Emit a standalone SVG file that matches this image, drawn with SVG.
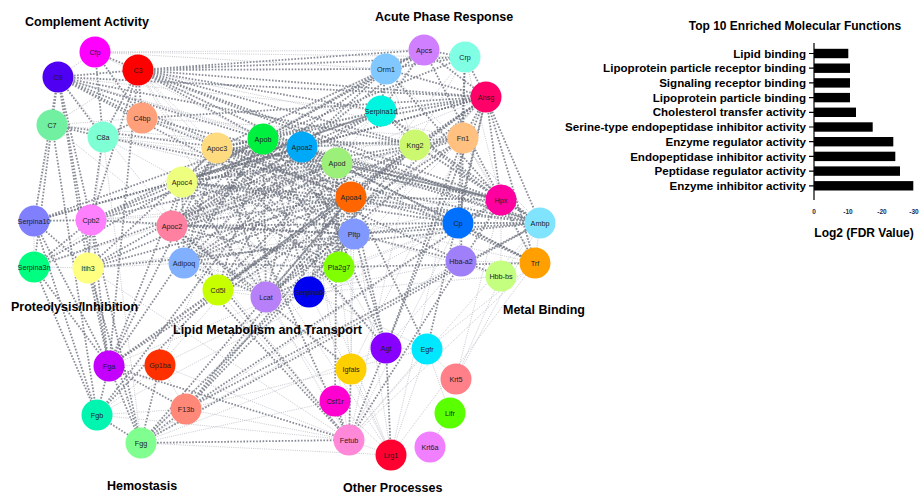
<svg xmlns="http://www.w3.org/2000/svg" width="921" height="493" viewBox="0 0 921 493">
<style>
.bg{fill:#ffffff}
.d path,.d{fill:none;stroke:#454b5a;stroke-width:1.8;stroke-dasharray:1.6 1.6;opacity:0.8}
.l path,.l{fill:none;stroke:#9ea3ad;stroke-width:0.8;stroke-dasharray:1 1.2;opacity:0.85}
.node circle{stroke:none}
.node text{font-family:"Liberation Sans",Arial,sans-serif;font-size:7.2px;fill:#1e1e24;text-anchor:middle}
.grp{font-family:"Liberation Sans",Arial,sans-serif;font-size:12.5px;font-weight:bold;fill:#000}
.bl{font-family:"Liberation Sans",Arial,sans-serif;font-size:11.6px;font-weight:bold;fill:#000;text-anchor:end}
.ttl{font-family:"Liberation Sans",Arial,sans-serif;font-size:12px;font-weight:bold;fill:#000;text-anchor:middle}
.tk{font-family:"Liberation Sans",Arial,sans-serif;font-size:6.5px;font-weight:bold;fill:#1a2a4a;text-anchor:middle}
.bar{fill:#000}
.ax{stroke:#000;stroke-width:1.2;fill:none}
</style>
<rect class="bg" x="0" y="0" width="921" height="493"/>
<g id="connectors">
<g class="d">
<path d="M58 77L52 125M58 77L103 137M58 77L138 70M95 52L138 70M95 52L103 137M138 70L103 137M138 70L142 118M142 118L103 137M52 125L103 137M58 77L142 118M95 52L142 118M58 77L34 221M58 77L91 220M103 137L91 220M52 125L34 267M58 77L88 268M138 70L91 220M58 77L109 366M52 125L97 415M138 70L109 366M138 70L386 69M138 70L424 50M138 70L465 57M138 70L486 97M138 70L381 111M138 70L415 145M138 70L501 200M138 70L540 223M58 77L486 97M58 77L415 145M103 137L540 223M142 118L486 97M142 118L351 197M142 118L501 200M138 70L263 139M138 70L302 147M58 77L263 139M58 77L351 197M52 125L337 163M58 77L354 234"/>
<path d="M217 148L263 139M217 148L302 147M217 148L337 163M217 148L351 197M217 148L354 234M217 148L339 267M217 148L266 297M217 148L184 263M217 148L172 226M217 148L182 182M263 139L302 147M263 139L337 163M263 139L351 197M263 139L354 234M263 139L339 267M263 139L309 292M263 139L266 297M263 139L218 290M263 139L184 263M263 139L172 226M263 139L182 182M302 147L337 163M302 147L351 197M302 147L354 234M302 147L339 267M302 147L266 297M302 147L218 290M302 147L184 263M302 147L172 226M302 147L182 182M337 163L351 197M337 163L354 234M337 163L339 267M337 163L309 292M337 163L266 297M337 163L184 263M337 163L172 226M337 163L182 182M351 197L354 234M351 197L339 267M351 197L266 297M351 197L218 290M351 197L184 263M351 197L172 226M351 197L182 182M354 234L339 267M354 234L309 292M354 234L266 297M354 234L184 263M354 234L172 226M354 234L182 182M339 267L266 297M339 267L184 263M339 267L172 226M339 267L182 182M266 297L184 263M266 297L172 226M266 297L182 182M184 263L172 226M184 263L182 182M172 226L182 182"/>
<path d="M91 220L337 163M91 220L354 234M88 268L337 163M34 221L302 147M184 263L415 145M172 226L463 138M218 290L415 145M266 297L486 97M217 148L461 261M182 182L458 223M263 139L501 200M302 147L540 223M302 147L501 200M337 163L535 263M88 268L302 147M34 267L263 139M182 182L381 111M172 226L386 69"/>
<path d="M386 69L424 50M386 69L465 57M386 69L486 97M386 69L381 111M424 50L465 57M424 50L486 97M465 57L486 97M486 97L463 138M486 97L381 111M381 111L415 145M465 57L463 138M424 50L381 111M486 97L415 145"/>
<path d="M424 50L302 147M424 50L263 139M465 57L263 139M486 97L302 147M486 97L263 139M486 97L217 148M486 97L351 197M386 69L302 147M386 69L263 139M386 69L217 148M381 111L263 139M381 111L302 147M381 111L217 148M381 111L182 182M381 111L172 226M415 145L351 197M415 145L263 139M463 138L302 147M463 138L182 182M463 138L337 163M463 138L266 297M463 138L109 366M463 138L386 348"/>
<path d="M486 97L501 200M486 97L540 223M486 97L458 223M486 97L535 263M465 57L458 223M424 50L501 200M415 145L501 200M415 145L540 223M381 111L540 223M381 111L501 200M386 69L501 200M463 138L461 261"/>
<path d="M501 200L540 223M501 200L458 223M501 200L535 263M458 223L540 223M458 223L535 263M461 261L501 276"/>
<path d="M501 200L351 197M501 200L337 163M501 200L217 148M540 223L351 197M540 223L337 163M540 223L182 182M458 223L302 147M458 223L172 226M458 223L351 197M458 223L354 234M535 263L263 139M535 263L339 267M461 261L354 234M540 223L354 234M501 200L349 440M540 223L141 443"/>
<path d="M34 221L91 220M34 221L88 268M91 220L88 268M34 267L91 220M34 221L97 415M34 221L109 366M34 267L109 366M34 267L97 415M91 220L109 366M91 220L141 443M88 268L141 443M88 268L109 366M91 220L302 147M91 220L263 139M91 220L182 182M88 268L217 148M88 268L351 197M34 221L263 139M34 267L337 163M88 268L540 223M34 221L486 97"/>
<path d="M109 366L97 415M109 366L141 443M97 415L141 443M109 366L186 409M141 443L186 409M160 365L141 443M109 366L351 197M109 366L182 182M109 366L263 139M109 366L217 148M97 415L302 147M97 415L337 163M141 443L351 197M141 443L354 234M141 443L349 440M186 409L351 197M186 409L354 234M186 409L415 145M186 409L501 200M186 409L540 223M109 366L486 97M109 366L349 440"/>
<path d="M386 348L391 455M386 348L349 440M351 369L349 440M335 401L349 440M386 348L351 197M386 348L354 234M386 348L302 147M386 348L217 148M351 369L172 226M427 349L337 163M349 440L172 226M349 440L184 263M349 440L217 148M335 401L337 163M427 349L486 97M386 348L486 97"/>
</g>
<g class="l">
<path d="M58 77L95 52M52 125L142 118M52 125L138 70M52 125L34 221M103 137L88 268M103 137L141 443M95 52L424 50M95 52L465 57M138 70L463 138M138 70L458 223M58 77L302 147M58 77L381 111M58 77L501 200M103 137L337 163M142 118L458 223M142 118L463 138M103 137L415 145M138 70L217 148M95 52L263 139M95 52L386 69M52 125L302 147M103 137L351 197M103 137L501 200M138 70L391 455M58 77L349 440M52 125L266 297M103 137L339 267M138 70L386 348M138 70L349 440"/>
<path d="M217 148L309 292M217 148L218 290M302 147L309 292M337 163L218 290M351 197L309 292M354 234L218 290M339 267L309 292M339 267L218 290M309 292L266 297M309 292L218 290M309 292L184 263M309 292L172 226M309 292L182 182M266 297L218 290M218 290L184 263M218 290L172 226M218 290L182 182"/>
<path d="M415 145L463 138M386 69L415 145M465 57L415 145M424 50L217 148M424 50L337 163M465 57L351 197M486 97L354 234M486 97L172 226M386 69L182 182M381 111L184 263M415 145L217 148M463 138L218 290M463 138L309 292M465 57L501 200M463 138L501 200M463 138L458 223M386 69L540 223M463 138L535 263"/>
<path d="M458 223L461 261M461 261L535 263M540 223L535 263M501 200L501 276M540 223L501 276M501 200L354 234M458 223L266 297M535 263L182 182M461 261L309 292M501 276L354 234M501 276L266 297M458 223L349 440M540 223L349 440M535 263L391 455M535 263L427 349M461 261L386 348M458 223L109 366M501 200L141 443M535 263L349 440M461 261L141 443M501 276L456 379"/>
<path d="M34 267L88 268M34 221L34 267M91 220L172 226M91 220L351 197M88 268L354 234M88 268L184 263M34 221L182 182M34 267L217 148M91 220L501 200M34 267L415 145M91 220L463 138M88 268L349 440"/>
<path d="M109 366L160 365M97 415L186 409M160 365L186 409M160 365L97 415M141 443L391 455M141 443L335 401M141 443L386 348M186 409L349 440M186 409L427 349M160 365L337 163M160 365L309 292M160 365L263 139M97 415L501 200M97 415L349 440M160 365L349 440M141 443L486 97"/>
<path d="M386 348L427 349M427 349L456 379M427 349L450 413M386 348L351 369M427 349L391 455M427 349L349 440M351 369L391 455M450 413L430 447M349 440L391 455M335 401L391 455M386 348L263 139M351 369L351 197M351 369L339 267M427 349L309 292M349 440L302 147M349 440L354 234M349 440L218 290M391 455L263 139M391 455L351 197M391 455L309 292M335 401L182 182M391 455L463 138M349 440L415 145M351 369L486 97M456 379L501 200M456 379L540 223"/>
</g>
</g>
<g id="nodes">
<g id="node-Cfp" class="node"><circle cx="95" cy="52" r="15.5" fill="#ff00ff"/><text x="95" y="54.5">Cfp</text></g>
<g id="node-C3" class="node"><circle cx="138" cy="70" r="15.5" fill="#ff0000"/><text x="138" y="72.5">C3</text></g>
<g id="node-C9" class="node"><circle cx="58" cy="77" r="15.5" fill="#4f00f2"/><text x="58" y="79.5">C9</text></g>
<g id="node-C7" class="node"><circle cx="52" cy="125" r="15.5" fill="#70f0a0"/><text x="52" y="127.5">C7</text></g>
<g id="node-C8a" class="node"><circle cx="103" cy="137" r="15.5" fill="#7fffd4"/><text x="103" y="139.5">C8a</text></g>
<g id="node-C4bp" class="node"><circle cx="142" cy="118" r="15.5" fill="#ffa07a"/><text x="142" y="120.5">C4bp</text></g>
<g id="node-Apoc3" class="node"><circle cx="217" cy="148" r="15.5" fill="#ffdb80"/><text x="217" y="150.5">Apoc3</text></g>
<g id="node-Apob" class="node"><circle cx="263" cy="139" r="15.5" fill="#00f040"/><text x="263" y="141.5">Apob</text></g>
<g id="node-Apoa2" class="node"><circle cx="302" cy="147" r="15.5" fill="#00a8f8"/><text x="302" y="149.5">Apoa2</text></g>
<g id="node-Apod" class="node"><circle cx="337" cy="163" r="15.5" fill="#9cf07a"/><text x="337" y="165.5">Apod</text></g>
<g id="node-Apoa4" class="node"><circle cx="351" cy="197" r="15.5" fill="#ff6600"/><text x="351" y="199.5">Apoa4</text></g>
<g id="node-Pltp" class="node"><circle cx="354" cy="234" r="15.5" fill="#8098ff"/><text x="354" y="236.5">Pltp</text></g>
<g id="node-Pla2g7" class="node"><circle cx="339" cy="267" r="15.5" fill="#80ff00"/><text x="339" y="269.5">Pla2g7</text></g>
<g id="node-Serpina6" class="node"><circle cx="309" cy="292" r="15.5" fill="#0000f0"/><text x="309" y="294.5">Serpina6</text></g>
<g id="node-Lcat" class="node"><circle cx="266" cy="297" r="15.5" fill="#b880f8"/><text x="266" y="299.5">Lcat</text></g>
<g id="node-Cd5l" class="node"><circle cx="218" cy="290" r="15.5" fill="#c8ff00"/><text x="218" y="292.5">Cd5l</text></g>
<g id="node-Adipoq" class="node"><circle cx="184" cy="263" r="15.5" fill="#80b0ff"/><text x="184" y="265.5">Adipoq</text></g>
<g id="node-Apoc2" class="node"><circle cx="172" cy="226" r="15.5" fill="#ff80a0"/><text x="172" y="228.5">Apoc2</text></g>
<g id="node-Apoc4" class="node"><circle cx="182" cy="182" r="15.5" fill="#eeff80"/><text x="182" y="184.5">Apoc4</text></g>
<g id="node-Serpina10" class="node"><circle cx="34" cy="221" r="15.5" fill="#8080ff"/><text x="34" y="223.5">Serpina10</text></g>
<g id="node-Cpb2" class="node"><circle cx="91" cy="220" r="15.5" fill="#ff80ff"/><text x="91" y="222.5">Cpb2</text></g>
<g id="node-Serpina3n" class="node"><circle cx="34" cy="267" r="15.5" fill="#00ff80"/><text x="34" y="269.5">Serpina3n</text></g>
<g id="node-Itih3" class="node"><circle cx="88" cy="268" r="15.5" fill="#ffff80"/><text x="88" y="270.5">Itih3</text></g>
<g id="node-Orm1" class="node"><circle cx="386" cy="69" r="15.5" fill="#80c8ff"/><text x="386" y="71.5">Orm1</text></g>
<g id="node-Apcs" class="node"><circle cx="424" cy="50" r="15.5" fill="#d080ff"/><text x="424" y="52.5">Apcs</text></g>
<g id="node-Crp" class="node"><circle cx="465" cy="57" r="15.5" fill="#80ffe4"/><text x="465" y="59.5">Crp</text></g>
<g id="node-Ahsg" class="node"><circle cx="486" cy="97" r="15.5" fill="#ff0068"/><text x="486" y="99.5">Ahsg</text></g>
<g id="node-Serpina1d" class="node"><circle cx="381" cy="111" r="15.5" fill="#00f5e0"/><text x="381" y="113.5">Serpina1d</text></g>
<g id="node-Kng2" class="node"><circle cx="415" cy="145" r="15.5" fill="#ccf870"/><text x="415" y="147.5">Kng2</text></g>
<g id="node-Fn1" class="node"><circle cx="463" cy="138" r="15.5" fill="#ffc080"/><text x="463" y="140.5">Fn1</text></g>
<g id="node-Hpx" class="node"><circle cx="501" cy="200" r="15.5" fill="#ff00a0"/><text x="501" y="202.5">Hpx</text></g>
<g id="node-Cp" class="node"><circle cx="458" cy="223" r="15.5" fill="#0070ff"/><text x="458" y="225.5">Cp</text></g>
<g id="node-Ambp" class="node"><circle cx="540" cy="223" r="15.5" fill="#80e4ff"/><text x="540" y="225.5">Ambp</text></g>
<g id="node-Hba-a2" class="node"><circle cx="461" cy="261" r="15.5" fill="#a080f8"/><text x="461" y="263.5">Hba-a2</text></g>
<g id="node-Trf" class="node"><circle cx="535" cy="263" r="15.5" fill="#ffa000"/><text x="535" y="265.5">Trf</text></g>
<g id="node-Hbb-bs" class="node"><circle cx="501" cy="276" r="15.5" fill="#c4ff80"/><text x="501" y="278.5">Hbb-bs</text></g>
<g id="node-Agt" class="node"><circle cx="386" cy="348" r="15.5" fill="#8800ff"/><text x="386" y="350.5">Agt</text></g>
<g id="node-Egfr" class="node"><circle cx="427" cy="349" r="15.5" fill="#00e8ff"/><text x="427" y="351.5">Egfr</text></g>
<g id="node-Igfals" class="node"><circle cx="351" cy="369" r="15.5" fill="#ffd000"/><text x="351" y="371.5">Igfals</text></g>
<g id="node-Krt5" class="node"><circle cx="456" cy="379" r="15.5" fill="#ff8088"/><text x="456" y="381.5">Krt5</text></g>
<g id="node-Csf1r" class="node"><circle cx="335" cy="401" r="15.5" fill="#ff00d0"/><text x="335" y="403.5">Csf1r</text></g>
<g id="node-Lifr" class="node"><circle cx="450" cy="413" r="15.5" fill="#5aff00"/><text x="450" y="415.5">Lifr</text></g>
<g id="node-Fetub" class="node"><circle cx="349" cy="440" r="15.5" fill="#ff88d8"/><text x="349" y="442.5">Fetub</text></g>
<g id="node-Krt6a" class="node"><circle cx="430" cy="447" r="15.5" fill="#f080ff"/><text x="430" y="449.5">Krt6a</text></g>
<g id="node-Lrg1" class="node"><circle cx="391" cy="455" r="15.5" fill="#ff0030"/><text x="391" y="457.5">Lrg1</text></g>
<g id="node-Fga" class="node"><circle cx="109" cy="366" r="15.5" fill="#c400ff"/><text x="109" y="368.5">Fga</text></g>
<g id="node-Gp1ba" class="node"><circle cx="160" cy="365" r="15.5" fill="#ff3000"/><text x="160" y="367.5">Gp1ba</text></g>
<g id="node-Fgb" class="node"><circle cx="97" cy="415" r="15.5" fill="#00f5b0"/><text x="97" y="417.5">Fgb</text></g>
<g id="node-F13b" class="node"><circle cx="186" cy="409" r="15.5" fill="#ff8878"/><text x="186" y="411.5">F13b</text></g>
<g id="node-Fgg" class="node"><circle cx="141" cy="443" r="15.5" fill="#80ff90"/><text x="141" y="445.5">Fgg</text></g>
</g>
<g id="group-labels">
<text class="grp" x="25" y="25.5">Complement Activity</text>
<text class="grp" x="375" y="20.5">Acute Phase Response</text>
<text class="grp" x="503" y="313.5">Metal Binding</text>
<text class="grp" x="11" y="310.5">Proteolysis/Inhibition</text>
<text class="grp" x="173" y="333.5">Lipid Metabolism and Transport</text>
<text class="grp" x="107" y="489.5">Hemostasis</text>
<text class="grp" x="343" y="491.5">Other Processes</text>
</g>
<g id="bar-chart">
<text class="ttl" x="795" y="30">Top 10 Enriched Molecular Functions</text>
<rect class="bar" x="814" y="48.8" width="34.3" height="9.4"/>
<rect class="bar" x="814" y="63.5" width="36" height="9.4"/>
<rect class="bar" x="814" y="78.2" width="36" height="9.4"/>
<rect class="bar" x="814" y="92.9" width="36" height="9.4"/>
<rect class="bar" x="814" y="107.6" width="42" height="9.4"/>
<rect class="bar" x="814" y="122.3" width="58.7" height="9.4"/>
<rect class="bar" x="814" y="137" width="79.3" height="9.4"/>
<rect class="bar" x="814" y="151.7" width="81.3" height="9.4"/>
<rect class="bar" x="814" y="166.4" width="86" height="9.4"/>
<rect class="bar" x="814" y="181.1" width="99.3" height="9.4"/>
<path class="ax" d="M814 43V200M809 53.5H814M809 68.2H814M809 82.9H814M809 97.6H814M809 112.3H814M809 127H814M809 141.7H814M809 156.4H814M809 171.1H814M809 185.8H814"/>
<text class="bl" x="806" y="57.6">Lipid binding</text>
<text class="bl" x="806" y="72.3">Lipoprotein particle receptor binding</text>
<text class="bl" x="806" y="87">Signaling receptor binding</text>
<text class="bl" x="806" y="101.7">Lipoprotein particle binding</text>
<text class="bl" x="806" y="116.4">Cholesterol transfer activity</text>
<text class="bl" x="806" y="131.1">Serine-type endopeptidase inhibitor activity</text>
<text class="bl" x="806" y="145.8">Enzyme regulator activity</text>
<text class="bl" x="806" y="160.5">Endopeptidase inhibitor activity</text>
<text class="bl" x="806" y="175.2">Peptidase regulator activity</text>
<text class="bl" x="806" y="189.9">Enzyme inhibitor activity</text>
<text class="tk" x="814" y="214">0</text>
<text class="tk" x="848" y="214">-10</text>
<text class="tk" x="882" y="214">-20</text>
<text class="tk" x="914" y="214">-30</text>
<text class="ttl" x="864" y="237">Log2 (FDR Value)</text>
</g>
</svg>
